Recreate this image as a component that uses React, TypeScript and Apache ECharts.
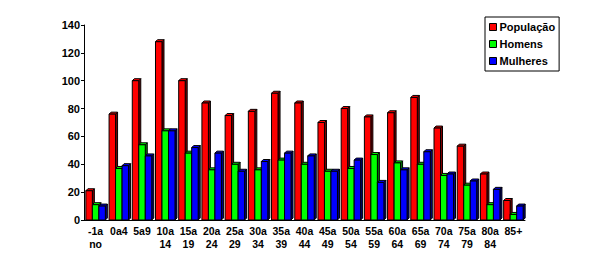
import React, { useEffect, useRef } from "react";
import * as echarts from "echarts";

const categories = ["-1a\nno", "0a4", "5a9", "10a\n14", "15a\n19", "20a\n24", "25a\n29", "30a\n34", "35a\n39", "40a\n44", "45a\n49", "50a\n54", "55a\n59", "60a\n64", "65a\n69", "70a\n74", "75a\n79", "80a\n84", "85+"];
const populacao = [21, 76, 100, 128, 100, 84, 75, 78, 91, 84, 70, 80, 74, 77, 88, 66, 53, 33, 14];
const homens = [11, 37, 54, 64, 48, 36, 40, 36, 43, 40, 35, 37, 47, 41, 40, 32, 25, 11, 4];
const mulheres = [10, 39, 46, 64, 52, 48, 35, 42, 48, 46, 35, 43, 27, 36, 49, 33, 28, 22, 10];
const seriesNames = ["População", "Homens", "Mulheres"];
const yTicks = { min: 0, max: 140, interval: 20 };

const fronts = ["#ff0000", "#00ff00", "#0000ff"];
const sides = ["#800000", "#008000", "#000080"];

export default function App() {
  const ref = useRef<HTMLDivElement>(null);
  useEffect(() => {
    const chart = echarts.init(ref.current!, null, { renderer: "svg" });
    const datasets = [populacao, homens, mulheres];
    const makeRender = (s: number) => (params: any, api: any) => {
      const idx = api.value(0);
      const val = api.value(1);
      const top = api.coord([idx, val]);
      const base = api.coord([idx, 0]);
      const band = api.size([1, 0])[0];
      const bandLeft = top[0] - band / 2;
      const w = band * 0.28;
      const d = 2;
      const x0 = bandLeft + band * 0.08 + s * w;
      const x1 = x0 + w;
      const yT = top[1];
      const y0 = base[1];
      const stroke = { stroke: "#000", lineWidth: 1 };
      return {
        type: "group",
        children: [
          {
            type: "polygon",
            shape: { points: [[x1, yT], [x1 + d, yT - d], [x1 + d, y0 - d], [x1, y0]] },
            style: { fill: sides[s], ...stroke },
          },
          {
            type: "polygon",
            shape: { points: [[x0, yT], [x0 + d, yT - d], [x1 + d, yT - d], [x1, yT]] },
            style: { fill: fronts[s], ...stroke },
          },
          {
            type: "rect",
            shape: { x: x0, y: yT, width: w, height: y0 - yT },
            style: { fill: fronts[s], ...stroke },
          },
        ],
      };
    };
    chart.setOption({
      animation: false,
      backgroundColor: "#fff",
      grid: { left: 84, right: 64, top: 25, bottom: 50 },
      legend: {
        orient: "vertical",
        left: 485,
        top: 17,
        width: 72,
        padding: [3, 4, 3, 4],
        itemGap: 3,
        itemWidth: 7,
        itemHeight: 7,
        borderColor: "#000",
        borderWidth: 1,
        icon: "rect",
        data: seriesNames.map((n, i) => ({
          name: n,
          itemStyle: { color: fronts[i], borderColor: "#000", borderWidth: 1 },
        })),
        textStyle: {
          fontFamily: "Liberation Sans, Arial, sans-serif",
          fontWeight: "bold",
          fontSize: 11,
          color: "#000",
          lineHeight: 14,
          padding: [0, 0, 0, -2],
        },
      },
      xAxis: {
        type: "category",
        data: categories,
        axisLine: { lineStyle: { color: "#000", width: 1 } },
        axisTick: { show: false },
        axisLabel: {
          interval: 0,
          color: "#000",
          fontFamily: "Liberation Sans, Arial, sans-serif",
          fontWeight: "bold",
          fontSize: 10.5,
          lineHeight: 13,
          margin: 4,
        },
      },
      yAxis: {
        type: "value",
        min: yTicks.min,
        max: yTicks.max,
        interval: yTicks.interval,
        splitLine: { show: false },
        axisLine: { show: true, lineStyle: { color: "#000", width: 1 } },
        axisTick: { show: true, length: 3, lineStyle: { color: "#000" } },
        axisLabel: {
          color: "#000",
          fontFamily: "Liberation Sans, Arial, sans-serif",
          fontWeight: "bold",
          fontSize: 11,
          margin: 4,
        },
      },
      series: datasets.map((arr, s) => ({
        type: "custom",
        name: seriesNames[s],
        itemStyle: { color: fronts[s] },
        data: arr.map((v, i) => [i, v]),
        renderItem: makeRender(s),
        clip: false,
      })),
    });
    return () => chart.dispose();
  }, []);
  return <div ref={ref} style={{ width: 589, height: 270, position: "absolute", left: 0, top: 0 }} />;
}
